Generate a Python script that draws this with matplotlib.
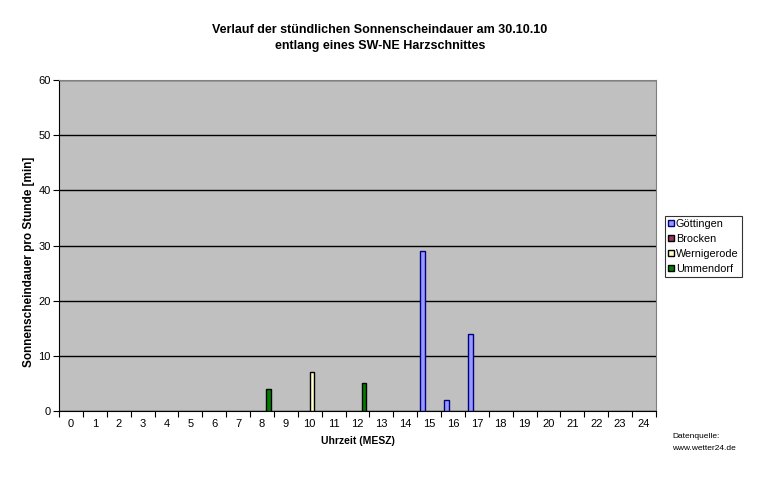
import numpy as np
import matplotlib
matplotlib.use('Agg')
import matplotlib.pyplot as plt
from matplotlib.patches import Patch

plt.rcParams['font.family'] = ['Liberation Sans', 'DejaVu Sans']

# %% data
hours = list(range(25))
series_names = ['Göttingen', 'Brocken', 'Wernigerode', 'Ummendorf']
goettingen = [0]*15 + [29, 2, 14] + [0]*7
brocken = [0]*25
wernigerode = [0]*10 + [7] + [0]*14
ummendorf = [0]*8 + [4, 0, 0, 0, 5] + [0]*12
series_vals = [goettingen, brocken, wernigerode, ummendorf]
face_cols = ['#9999FF', '#993366', '#FFFFCC', '#008000']
edge_cols = ['#000080', '#000000', '#000000', '#000000']

# %% plot
fig = plt.figure(figsize=(7.68, 4.83), dpi=100)
ax = fig.add_axes([59/768, 1-411/483, (656-59)/768, (411-80)/483])
ax.set_facecolor('#C0C0C0')

w = 1/5.5
x = np.array(hours)
for k in range(len(series_names)):
    vals = np.array(series_vals[k])
    # only draw nonzero bars, like excel does
    mask = vals > 0
    ax.bar(x[mask] - 2*w + k*w, vals[mask], width=w, align='edge',
           color=face_cols[k], edgecolor=edge_cols[k], linewidth=1, zorder=3)

ax.set_xlim(-0.5, 24.5)
ax.set_ylim(0, 60)
ax.set_yticks(np.arange(0, 61, 10))
ax.yaxis.grid(True, color='black', linewidth=1)
ax.set_axisbelow(True)

ax.set_xticks(np.arange(-0.5, 25, 1))
ax.set_xticklabels([])
ax.set_xticks(x, minor=True)
ax.set_xticklabels([str(h) for h in hours], minor=True)
ax.tick_params(axis='x', which='major', length=4, direction='out')
ax.tick_params(axis='x', which='minor', length=0, pad=6, labelsize=8)
ax.tick_params(axis='y', length=4, direction='out', labelsize=8, pad=2)

for s in ['top', 'right']:
    ax.spines[s].set_color('#808080')
for s in ['left', 'bottom']:
    ax.spines[s].set_color('black')

ax.set_xlabel('Uhrzeit (MESZ)', fontsize=7.5, fontweight='bold', labelpad=5)
ax.set_ylabel('Sonnenscheindauer pro Stunde [min]', fontsize=8.5,
              fontweight='bold')
ax.yaxis.set_label_coords((35-59)/597, (411-262)/331)

fig.text(380/768, 1-30/483, 'Verlauf der stündlichen Sonnenscheindauer am 30.10.10',
         ha='center', va='center', fontsize=9, fontweight='bold')
fig.text(380/768, 1-46/483, 'entlang eines SW-NE Harzschnittes',
         ha='center', va='center', fontsize=9, fontweight='bold')

handles = [Patch(facecolor=face_cols[k], edgecolor=edge_cols[k])
           for k in range(4)]
leg = fig.legend(handles, series_names, loc='upper left',
                 bbox_to_anchor=(665/768, 1-216/483), fontsize=7.8,
                 frameon=True, fancybox=False, edgecolor='black',
                 handlelength=0.5, handleheight=0.5, handletextpad=0.2,
                 borderpad=0.3, labelspacing=0.45, borderaxespad=0)
leg.get_frame().set_linewidth(0.8)

fig.text(672/768, 1-437/483, 'Datenquelle:', fontsize=6, va='center')
fig.text(672/768, 1-449/483, 'www.wetter24.de', fontsize=6, va='center')

fig.savefig('out.png', dpi=100)
